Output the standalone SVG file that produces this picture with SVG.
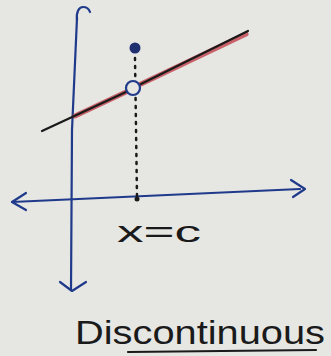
<svg xmlns="http://www.w3.org/2000/svg" width="331" height="356" viewBox="0 0 331 356">
<style>
.ax{fill:none;stroke:#1f3a8a;stroke-width:2.2;stroke-linecap:round;stroke-linejoin:round}
.ink{fill:none;stroke:#1a1a1a;stroke-linecap:round}
.lbl{font-family:"Liberation Sans",sans-serif;fill:#1a1a1a}
</style>
<rect width="331" height="356" fill="#e6e6e3"/>
<g id="axes">
<path class="ax" d="M77 18 L72 130 L71 290"/>
<path class="ax" d="M77 20 C76 12 79 7 83 7 C87 7 89 9 90 12"/>
<path class="ax" d="M60 282 L72 291 L86 282"/>
<path class="ax" d="M12 202 L300 189"/>
<path class="ax" d="M26 193 L12 202 L26 210"/>
<path class="ax" d="M291 180 L305 189 L293 197"/>
</g>
<g id="connectors">
<line x1="135" y1="58" x2="137" y2="197" stroke="#1a1a1a" stroke-width="2.5" stroke-dasharray="2 6" stroke-linecap="round"/>
</g>
<g id="curve">
<path d="M75 116 L126 92 M141 84 L246 34" stroke="#c0404a" stroke-width="5" fill="none" stroke-linecap="round" opacity="0.8"/>
<path class="ink" stroke-width="2.2" d="M42 131 L126 92 M141 84 L248 31"/>
</g>
<g id="open-point"><circle cx="133" cy="88" r="7" fill="#e6e6e3" stroke="#1f3a8a" stroke-width="2.2"/></g>
<g id="filled-point"><circle cx="135" cy="48" r="5.5" fill="#1f2f70"/></g>
<g id="xpoint"><circle cx="137" cy="199" r="2.5" fill="#1a1a1a"/></g>
<text class="lbl" x="117" y="242" font-size="30" textLength="84" lengthAdjust="spacingAndGlyphs">x=c</text>
<text class="lbl" x="75" y="344" font-size="33" textLength="250" lengthAdjust="spacingAndGlyphs">Discontinuous</text>
<path class="ink" stroke-width="2.2" d="M128 352 L316 350"/>
</svg>
